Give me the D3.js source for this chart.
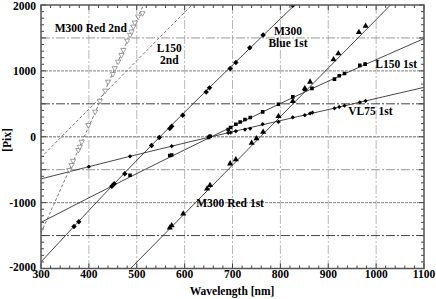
<!DOCTYPE html>
<html>
<head>
<meta charset="utf-8">
<script src="https://cdn.jsdelivr.net/npm/d3@7"></script>
<style>
  html, body { margin: 0; padding: 0; background: #fff; }
  svg { display: block; font-family: "Liberation Serif", "DejaVu Serif", serif; }
</style>
</head>
<body>
<div id="chart"></div>
<script>
// ---- data (wavelength [nm], position [Pix]) ----
const xTicks = [300, 400, 500, 600, 700, 800, 900, 1000, 1100];
const yTicks = [-2000, -1000, 0, 1000, 2000];
const yGrid = [-1500, -1000, -500, 0, 500, 1000, 1500];

// fitted dispersion curves
const fitM300Blue1 = [[300, -1900], [450, -735], [830, 2000]];
const fitL150_1 = [[300, -1300], [486, -610], [653, -10], [866, 730], [1100, 1490]];
const fitVL75_1 = [[300, -640], [486, -297], [978, 544], [1100, 750]];
const fitM300Red1 = [[487, -2000], [1030, 2000]];
const fitM300Red2 = [[300, -1460], [514, 2000]];
const fitL150_2 = [[300, -315], [615, 2000]];

// measured points
const ptsM300Blue1 = [[369, -1361], [379, -1290], [448, -753], [453, -712], [475, -560], [531, -134],
  [547, -12], [569, 125], [573, 160], [596, 327], [645, 681], [652, 742], [695, 1037], [707, 1128],
  [736, 1351], [764, 1544], [826, 1995]];
const ptsL150_1 = [[486, -585], [569, -285], [573, -278], [650, -10], [653, 8], [691, 109], [696, 140],
  [707, 190], [716, 225], [726, 262], [737, 292], [763, 377], [796, 494], [826, 605], [851, 718],
  [866, 735], [913, 875], [923, 925], [934, 961], [966, 1083], [977, 1103]];
const ptsVL75_1 = [[400, -455], [486, -297], [573, -144], [653, 11], [691, 60], [696, 64], [707, 84],
  [726, 109], [737, 125], [763, 190], [796, 225], [826, 295], [851, 327], [862, 353], [867, 368],
  [913, 431], [923, 453], [934, 471], [966, 523], [978, 544]];
const ptsM300Red1 = [[569, -1381], [573, -1346], [597, -1168], [647, -788], [653, -738], [695, -408],
  [707, -347], [740, -94], [750, -27], [764, 73], [796, 310], [826, 540], [851, 733], [862, 833],
  [911, 1174], [921, 1265], [964, 1585], [978, 1681]];
const ptsM300Red2 = [[359, -506], [364, -430], [367, -365], [378, -202], [381, -152], [385, -76],
  [399, 178], [413, 380], [423, 545], [434, 700], [440, 836], [450, 953], [454, 1040], [461, 1140],
  [468, 1242], [472, 1318], [480, 1459], [486, 1546], [489, 1596], [493, 1672], [496, 1733],
  [503, 1824], [512, 1875]];

const labels = [
  { lines: ["M300 Red 2nd"], x: 404, y: 1596 },
  { lines: ["L150", "2nd"], x: 568, y: 1292 },
  { lines: ["M300", "Blue 1st"], x: 816, y: 1546 },
  { lines: ["L150 1st"], x: 1042, y: 1040 },
  { lines: ["VL75 1st"], x: 988, y: 330 },
  { lines: ["M300 Red 1st"], x: 695, y: -1064 }
];

// ---- chart ----
const W = 436, H = 299;
const L = 41, R = 424, T = 5, B = 268.5;
const FS = 11.5;

const svg = d3.select("#chart").append("svg").attr("width", W).attr("height", H);
const x = d3.scaleLinear().domain([300, 1100]).range([L, R]);
const y = d3.scaleLinear().domain([-2000, 2000]).range([B, T]);

svg.append("clipPath").attr("id", "clip")
  .append("rect").attr("x", L).attr("y", T).attr("width", R - L).attr("height", B - T);

// grid
const grid = svg.append("g");
grid.selectAll(".gx").data(xTicks.slice(1, -1)).join("line")
  .attr("x1", d => x(d)).attr("x2", d => x(d)).attr("y1", T).attr("y2", B)
  .attr("stroke", "#b8b8b8").attr("stroke-width", 1).attr("stroke-dasharray", "9,2,2,2");
grid.selectAll(".gy").data(yGrid).join("line")
  .attr("x1", L).attr("x2", R).attr("y1", d => y(d)).attr("y2", d => y(d))
  .attr("stroke", d => (d === -1500 || d === 500) ? "#444" : "#999")
  .attr("stroke-width", d => (d % 1000 === 0) ? 1.4 : 1)
  .attr("stroke-dasharray", d => (d % 1000 === 0) ? "3,1" : "9,2,2,2");

// ticks (inward)
const tk = svg.append("g").attr("stroke", "#444").attr("stroke-width", 1);
const xMinor = d3.range(300, 1101, 20);
const yMinor = d3.range(-2000, 2001, 100);
xMinor.forEach(v => {
  const len = (v % 100 === 0) ? 5 : 3;
  tk.append("line").attr("x1", x(v)).attr("x2", x(v)).attr("y1", B).attr("y2", B - len);
  tk.append("line").attr("x1", x(v)).attr("x2", x(v)).attr("y1", T).attr("y2", T + len);
});
yMinor.forEach(v => {
  const len = (v % 500 === 0) ? 5 : 3;
  tk.append("line").attr("y1", y(v)).attr("y2", y(v)).attr("x1", L).attr("x2", L + len);
  tk.append("line").attr("y1", y(v)).attr("y2", y(v)).attr("x1", R).attr("x2", R - len);
});

// lines
const line = d3.line().x(d => x(d[0])).y(d => y(d[1])).curve(d3.curveMonotoneX);
const plot = svg.append("g").attr("clip-path", "url(#clip)");
[fitM300Red2, fitL150_2].forEach(f => {
  plot.append("path").attr("d", line(f)).attr("fill", "none")
    .attr("stroke", "#666").attr("stroke-width", 0.9).attr("stroke-dasharray", "3,2");
});
[fitM300Blue1, fitL150_1, fitVL75_1, fitM300Red1].forEach(f => {
  plot.append("path").attr("d", line(f)).attr("fill", "none")
    .attr("stroke", "#333").attr("stroke-width", 0.9);
});

// markers
function markers(pts, type, size, opts) {
  const sym = d3.symbol().type(type).size(size);
  plot.append("g").selectAll("path").data(pts).join("path")
    .attr("d", sym)
    .attr("transform", d => `translate(${x(d[0])},${y(d[1])})` + (opts.rot ? ` rotate(${opts.rot})` : ""))
    .attr("fill", opts.fill).attr("stroke", opts.stroke || "none").attr("stroke-width", opts.sw || 0);
}
markers(ptsM300Red2, d3.symbolTriangle, 12, { fill: "#fff", stroke: "#777", sw: 0.7, rot: 180 });
markers(ptsM300Blue1, d3.symbolSquare, 15, { fill: "#000", rot: 45 });
markers(ptsL150_1, d3.symbolSquare, 13, { fill: "#000" });
markers(ptsVL75_1, d3.symbolSquare, 9, { fill: "#000", rot: 45 });
markers(ptsM300Red1, d3.symbolTriangle, 16, { fill: "#000" });

// frame
svg.append("rect").attr("x", L).attr("y", T).attr("width", R - L).attr("height", B - T)
  .attr("fill", "none").attr("stroke", "#555").attr("stroke-width", 1.5);

// tick labels
svg.append("g").selectAll("text").data(xTicks).join("text")
  .attr("x", d => x(d)).attr("y", 278).attr("text-anchor", "middle")
  .attr("font-size", FS).attr("font-weight", "bold").text(d => d);
svg.append("g").selectAll("text").data(yTicks).join("text")
  .attr("x", 36).attr("y", d => y(d) + (d === 2000 ? 1 : 0) - (d === -2000 ? 2 : 0))
  .attr("dy", "0.35em").attr("text-anchor", "end")
  .attr("font-size", FS).attr("font-weight", "bold").text(d => d);

// axis titles
svg.append("text").attr("x", 232).attr("y", 295).attr("text-anchor", "middle")
  .attr("font-size", FS).attr("font-weight", "bold").text("Wavelength [nm]");
svg.append("text").attr("transform", "translate(11,140) rotate(-90)").attr("text-anchor", "middle")
  .attr("font-size", FS).attr("font-weight", "bold").text("[Pix]");

// curve labels
labels.forEach(lb => {
  const t = svg.append("text").attr("text-anchor", "middle")
    .attr("font-size", FS).attr("font-weight", "bold");
  lb.lines.forEach((s, i) => {
    t.append("tspan").attr("x", x(lb.x)).attr("y", y(lb.y) + i * 12).text(s);
  });
});
</script>
</body>
</html>
